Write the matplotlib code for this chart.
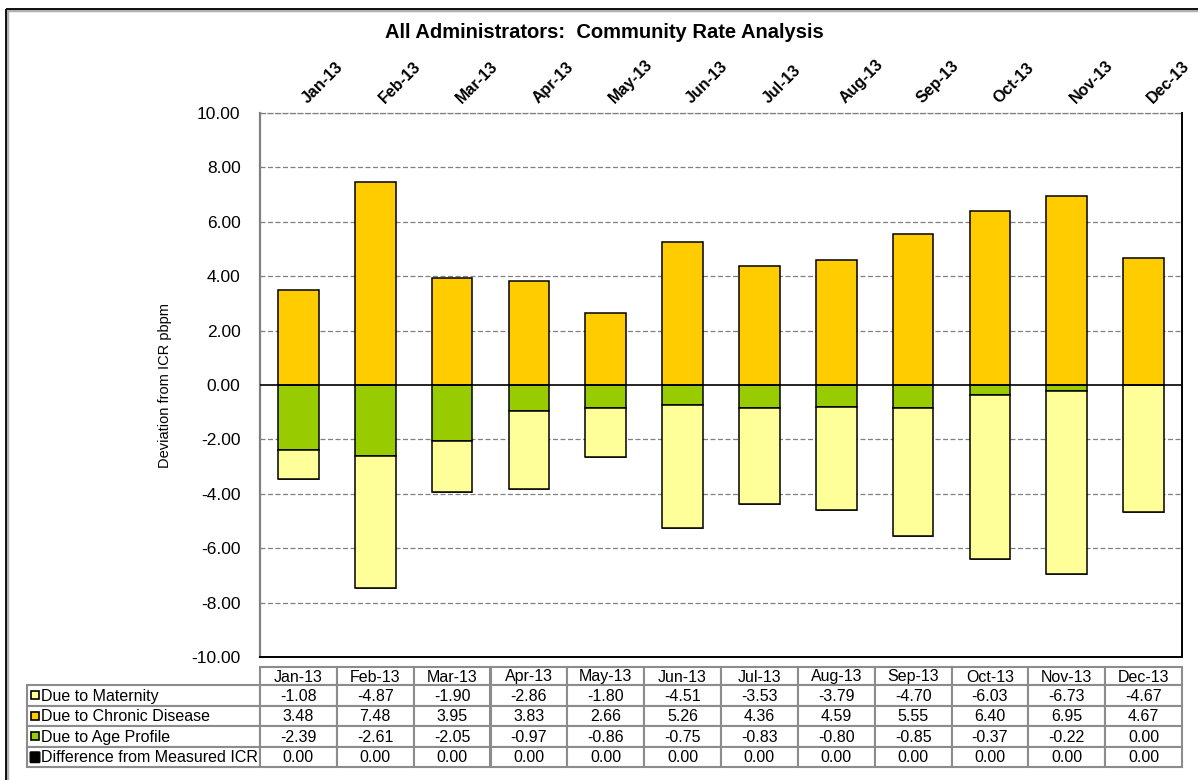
import matplotlib
matplotlib.use('Agg')
import matplotlib.pyplot as plt
from matplotlib.patches import Rectangle, FancyBboxPatch
import matplotlib.transforms as mtransforms
import numpy as np

plt.rcParams['font.family'] = ['Liberation Sans', 'DejaVu Sans']

MONTHS = ['Jan-13', 'Feb-13', 'Mar-13', 'Apr-13', 'May-13', 'Jun-13',
          'Jul-13', 'Aug-13', 'Sep-13', 'Oct-13', 'Nov-13', 'Dec-13']
MATERNITY = [-1.08, -4.87, -1.90, -2.86, -1.80, -4.51, -3.53, -3.79, -4.70, -6.03, -6.73, -4.67]
CHRONIC = [3.48, 7.48, 3.95, 3.83, 2.66, 5.26, 4.36, 4.59, 5.55, 6.40, 6.95, 4.67]
AGE = [-2.39, -2.61, -2.05, -0.97, -0.86, -0.75, -0.83, -0.80, -0.85, -0.37, -0.22, 0.00]
DIFF = [0.00] * 12
SERIES = ['Due to Maternity', 'Due to Chronic Disease', 'Due to Age Profile',
          'Difference from Measured ICR']

C_MAT = '#FFFF99'
C_CHR = '#FFCC00'
C_AGE = '#99CC00'
C_DIFF = '#000000'
GRID = '#808080'

W, H = 1198, 780
fig = plt.figure(figsize=(W / 100, H / 100), dpi=100)

def fx(px):
    return px / W

def fy(py):
    return 1 - py / H

# outer chart frame
frame = fig.add_axes([0, 0, 1, 1])
frame.set_xlim(0, W)
frame.set_ylim(H, 0)
frame.axis('off')
frame.add_patch(Rectangle((7, 10), W + 20, H + 20, facecolor='none',
                          edgecolor='#b0b0b0', lw=2.5))
frame.add_patch(Rectangle((6, 9), W + 20, H + 20, facecolor='none',
                          edgecolor='black', lw=1.3))

# main plot area
L, R, T, B = 260, 1182, 113, 657
ax = fig.add_axes([fx(L), fy(B), fx(R) - fx(L), fy(T) - fy(B)])
x = np.arange(len(MONTHS))
age = np.array(AGE)
mat = np.array(MATERNITY)
chr_ = np.array(CHRONIC)
bw = 0.53

ax.bar(x, age, bw, color=C_AGE, edgecolor='black', lw=1.1, zorder=3)
ax.bar(x, mat, bw, bottom=age, color=C_MAT, edgecolor='black', lw=1.1, zorder=3)
ax.bar(x, chr_, bw, color=C_CHR, edgecolor='black', lw=1.1, zorder=3)
ax.bar(x, DIFF, bw, bottom=age + mat, color=C_DIFF, edgecolor='black', lw=0.5, zorder=3)

ax.set_xlim(-0.5, len(MONTHS) - 0.5)
ax.set_ylim(-10, 10)
ax.set_yticks(np.arange(-10, 10.01, 2))
ax.set_yticklabels([f'{v:.2f}' for v in np.arange(-10, 10.01, 2)], fontsize=12.5)
ax.tick_params(axis='y', length=0, pad=14)
ax.set_xticks([])
for v in np.arange(-8, 10.01, 2):
    if v != 0:
        ax.axhline(v, color=GRID, lw=0.9, ls=(0, (4, 2)), zorder=1)
ax.axhline(0, color='black', lw=1.2, zorder=4)

ax.spines['left'].set_color(GRID)
ax.spines['left'].set_linewidth(1.6)
ax.spines['top'].set_color(GRID)
ax.spines['top'].set_linewidth(0.9)
ax.spines['top'].set_linestyle((0, (4, 2)))
ax.spines['right'].set_color('black')
ax.spines['right'].set_linewidth(1.4)
ax.spines['bottom'].set_color('black')
ax.spines['bottom'].set_linewidth(1.4)

ax.set_ylabel('Deviation from ICR pbpm', fontsize=10.5, labelpad=14)

# rotated month labels above the plot
trans = mtransforms.blended_transform_factory(ax.transData, ax.transAxes)
for i, m in enumerate(MONTHS):
    ax.text(i + 0.08, 1.022, m, transform=trans, rotation=45,
            rotation_mode='anchor', ha='left', va='center',
            fontsize=11.5, fontweight='bold')

fig.text(fx(604), fy(33), 'All Administrators:  Community Rate Analysis',
         ha='center', va='center', fontsize=14.5, fontweight='bold')

# data table
tab = fig.add_axes([0, 0, 1, 1])
tab.set_xlim(0, W)
tab.set_ylim(H, 0)
tab.axis('off')
TC = '#8c8c8c'
col_w = (R - L) / len(MONTHS)
hdr_top, hdr_bot = 667, 685
row_h = 20.5
lab_left = 27

# header cells
for i, m in enumerate(MONTHS):
    cx = L + i * col_w
    tab.add_patch(Rectangle((cx, hdr_top), col_w, hdr_bot - hdr_top,
                            facecolor='white', edgecolor=TC, lw=1.5))
    tab.text(cx + col_w / 2, (hdr_top + hdr_bot) / 2 + 1, m, ha='center',
             va='center', fontsize=11.5)

values = [MATERNITY, CHRONIC, AGE, DIFF]
swatch = [C_MAT, C_CHR, C_AGE, C_DIFF]
for r, (name, vals, col) in enumerate(zip(SERIES, values, swatch)):
    y0 = hdr_bot + r * row_h
    yc = y0 + row_h / 2 + 1
    tab.add_patch(Rectangle((lab_left, y0), L - lab_left, row_h,
                            facecolor='white', edgecolor=TC, lw=1.5))
    if r == 3:
        tab.add_patch(FancyBboxPatch((lab_left + 4, yc - 5), 8, 9,
                                     boxstyle='round,pad=0.8',
                                     facecolor='black', edgecolor='black', lw=1))
    else:
        tab.add_patch(Rectangle((lab_left + 4, yc - 5), 8, 8,
                                facecolor=col, edgecolor='black', lw=1.2))
    tab.text(lab_left + 14, yc, name, ha='left', va='center', fontsize=11.5)
    for i, v in enumerate(vals):
        cx = L + i * col_w
        tab.add_patch(Rectangle((cx, y0), col_w, row_h,
                                facecolor='white', edgecolor=TC, lw=1.5))
        tab.text(cx + col_w / 2, yc, f'{v:.2f}', ha='center', va='center',
                 fontsize=11.5)

fig.savefig('out.png', dpi=100)
